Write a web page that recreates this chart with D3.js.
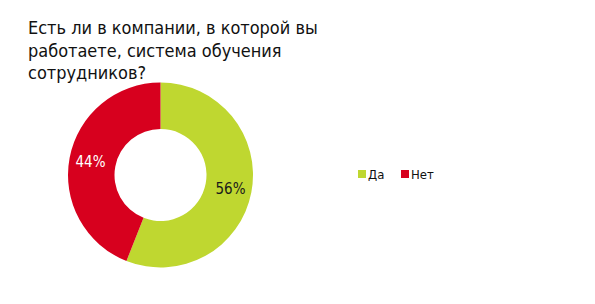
<!DOCTYPE html>
<html>
<head>
<meta charset="utf-8">
<script src="https://cdn.jsdelivr.net/npm/d3@7"></script>
<style>
  body { margin: 0; background: #fff; }
  svg { display: block; }
</style>
</head>
<body>
<div id="chart"></div>
<script>
var categories = ["Да", "Нет"];
var values = [56, 44];
var colors = ["#bfd730", "#d7001e"];
var labelColors = ["#1a1a1a", "#ffffff"];
var titleLines = ["Есть ли в компании, в которой вы", "работаете, система обучения", "сотрудников?"];

var width = 595, height = 304;
var svg = d3.select("#chart").append("svg")
	.attr("width", width)
	.attr("height", height);

var font = "Tahoma, 'DejaVu Sans Condensed', 'DejaVu Sans', sans-serif";

// title
var title = svg.append("g").attr("class", "title");
titleLines.forEach(function(line, i) {
	title.append("text")
		.attr("x", 28)
		.attr("y", 34 + i * 22.5)
		.attr("font-family", font)
		.attr("font-size", 19)
		.attr("fill", "#111")
		.text(line);
});
// fit first line to the width seen in the reference
var w0 = title.select("text").node().getComputedTextLength();
var fs = 19 * 290 / w0;
title.selectAll("text").attr("font-size", fs);

// donut
var cx = 160.5, cy = 175, outerR = 92.5, innerR = 46;
var pie = d3.pie().sort(null).value(function(d) { return d; });
var arc = d3.arc().innerRadius(innerR).outerRadius(outerR);
var labelArc = d3.arc().innerRadius((innerR + outerR) / 2 + 2).outerRadius((innerR + outerR) / 2 + 2);

var g = svg.append("g").attr("transform", "translate(" + cx + "," + cy + ")");
var arcs = pie(values);

g.selectAll("path")
	.data(arcs)
	.enter().append("path")
	.attr("d", arc)
	.attr("fill", function(d, i) { return colors[i]; });

g.selectAll("text")
	.data(arcs)
	.enter().append("text")
	.attr("transform", function(d) { return "translate(" + labelArc.centroid(d) + ")"; })
	.attr("text-anchor", "middle")
	.attr("dy", "0.35em")
	.attr("font-family", font)
	.attr("font-size", 15)
	.attr("fill", function(d, i) { return labelColors[i]; })
	.text(function(d) { return d.data + "%"; });

// legend
var legend = svg.append("g").attr("transform", "translate(358,174)");
var x = d3.scalePoint().domain(categories).range([0, 43]);
var items = legend.selectAll("g")
	.data(categories)
	.enter().append("g")
	.attr("transform", function(d) { return "translate(" + x(d) + ",0)"; });
items.append("rect")
	.attr("x", 0).attr("y", -4)
	.attr("width", 8).attr("height", 8)
	.attr("fill", function(d, i) { return colors[i]; });
items.append("text")
	.attr("x", 10)
	.attr("dy", "0.35em")
	.attr("font-family", font)
	.attr("font-size", 13)
	.attr("fill", "#111")
	.text(function(d) { return d; });
</script>
</body>
</html>
